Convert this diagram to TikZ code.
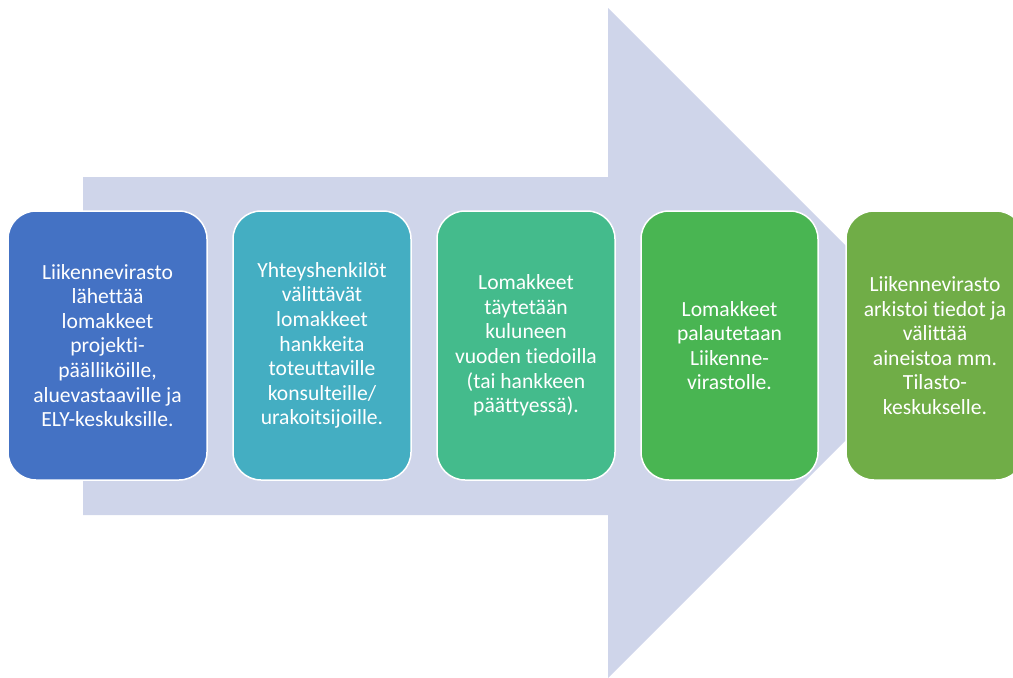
\documentclass[tikz,border=0pt]{standalone}
\usepackage{fontspec}
\setmainfont[Ligatures=NoCommon]{Carlito}
\usepackage{xcolor}
\usetikzlibrary{positioning}
\definecolor{arrowfill}{HTML}{CFD5EA}
\definecolor{stageblue}{HTML}{4472C4}
\definecolor{stageteal}{HTML}{44AEC2}
\definecolor{stagemint}{HTML}{44BB8C}
\definecolor{stagegreen}{HTML}{49B552}
\definecolor{stageolive}{HTML}{70AD47}
\tikzset{
	stage/.style={draw=white, line width=1.5pt, rounded corners=28pt, minimum width=178pt, minimum height=269pt, inner sep=0pt, text=white, align=center, font=\fontsize{21.6}{24.6}\selectfont},
	bigarrow/.style={fill=arrowfill, draw=none}
}

\begin{document}
\begin{tikzpicture}[x=1pt, y=-1pt]
				\useasboundingbox (0,0) rectangle (1013,678);
				\fill[bigarrow] (83,177) -- (608,177) -- (608,8) -- (943,343) -- (608,678) -- (608,515) -- (83,515) -- cycle;
				\node[stage, fill=stageblue, minimum width=199pt] (lahetys) at (107.5,345.5) {Liikennevirasto\\lähettää\\lomakkeet\\projekti-\\päälliköille,\\aluevastaaville ja\\ELY-keskuksille.};
				\node[stage, fill=stageteal] (valitys) at (322,345.5) {Yhteyshenkilöt\\välittävät\\lomakkeet\\hankkeita\\toteuttaville\\konsulteille/\\urakoitsijoille.};
				\node[stage, fill=stagemint] (taytto) at (526,345.5) {Lomakkeet\\täytetään\\kuluneen\\vuoden tiedoilla\\(tai hankkeen\\päättyessä).};
				\node[stage, fill=stagegreen, minimum width=177pt] (palautus) at (729.5,345.5) {Lomakkeet\\palautetaan\\Liikenne-\\virastolle.};
				\node[stage, fill=stageolive] (arkistointi) at (935,345.5) {Liikennevirasto\\arkistoi tiedot ja\\välittää\\aineistoa mm.\\Tilasto-\\keskukselle.};
			\end{tikzpicture}
\end{document}
